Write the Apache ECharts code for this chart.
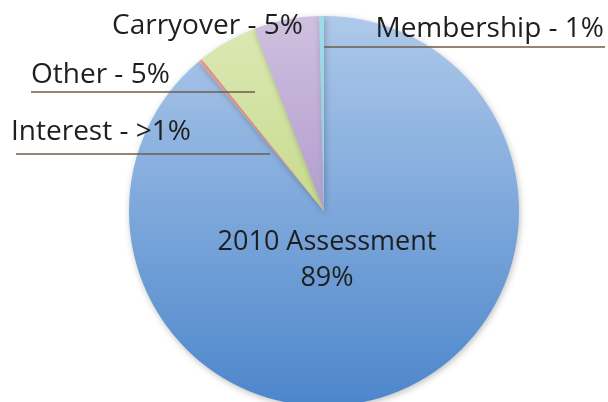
<!DOCTYPE html>
<html>
<head>
<meta charset="utf-8">
<script src="https://cdn.jsdelivr.net/npm/echarts@6/dist/echarts.min.js"></script>
<style>
html,body{margin:0;padding:0;background:#fff;}
#chart{width:608px;height:402px;}
</style>
</head>
<body>
<div id="chart"></div>
<script>
const categories = ['2010 Assessment', 'Interest', 'Other', 'Carryover', 'Membership'];
const values = [89, 0.3, 5, 5.4, 0.4];
const labelTexts = ['2010 Assessment\n89%', 'Interest - >1%', 'Other - 5%', 'Carryover - 5%', 'Membership - 1%'];

const CX = 324, CY = 211, R = 195;
function grad(top, bottom) {
  return {
    type: 'linear', x: 0, y: CY - R, x2: 0, y2: CY + R, global: true,
    colorStops: [{offset: 0, color: top}, {offset: 1, color: bottom}]
  };
}
const sliceColors = [
  grad('#aec9ea', '#4c86cb'),
  grad('#f2a9a5', '#e88c88'),
  grad('#dde9b6', '#b0cc64'),
  grad('#cfc0e0', '#9479bb'),
  grad('#9fdbea', '#7dc8de')
];
const showLine = [false, true, true, false, true];

const chart = echarts.init(document.getElementById('chart'), null, {renderer: 'canvas'});
chart.setOption({
  animation: false,
  series: [{
    type: 'pie',
    z: 2,
    center: [CX, CY],
    radius: [0, R],
    startAngle: 90,
    clockwise: true,
    silent: true,
    data: categories.map((c, i) => ({
      name: c,
      value: values[i],
      itemStyle: {color: sliceColors[i]}
    })),
    itemStyle: {
      borderWidth: 0,
      shadowBlur: 6,
      shadowColor: 'rgba(0,0,0,0.25)',
      shadowOffsetX: 1,
      shadowOffsetY: 2
    },
    label: {show: false},
    labelLine: {show: false}
  }, {
    type: 'pie',
    z: 5,
    center: [CX, CY],
    radius: [0, R],
    startAngle: 90,
    clockwise: true,
    silent: true,
    avoidLabelOverlap: false,
    data: categories.map((c, i) => ({
      name: c,
      value: values[i],
      labelLine: {show: showLine[i]},
      label: i === 0 ? {fontSize: 27, lineHeight: 36} : {}
    })),
    itemStyle: {color: 'rgba(0,0,0,0)', borderWidth: 0},
    label: {
      show: true,
      position: 'outside',
      formatter: p => labelTexts[p.dataIndex],
      fontFamily: '"Open Sans", sans-serif',
      fontSize: 28,
      lineHeight: 34,
      color: '#1e1e1e'
    },
    labelLine: {
      show: true,
      lineStyle: {color: '#6e5c4b', width: 1.5}
    },
    labelLayout: function (p) {
      switch (p.dataIndex) {
        case 0: return {x: 327, y: 260, align: 'center', verticalAlign: 'middle'};
        case 1: return {x: 11, y: 132, align: 'left', verticalAlign: 'middle',
          labelLinePoints: [[270, 154], [143, 154], [16, 154]]};
        case 2: return {x: 31, y: 75, align: 'left', verticalAlign: 'middle',
          labelLinePoints: [[255, 92], [143, 92], [31, 92]]};
        case 3: return {x: 112, y: 26, align: 'left', verticalAlign: 'middle'};
        case 4: return {x: 604, y: 29, align: 'right', verticalAlign: 'middle',
          labelLinePoints: [[324, 47], [464, 47], [605, 47]]};
      }
    },
    emphasis: {disabled: true}
  }]
});
</script>
</body>
</html>
